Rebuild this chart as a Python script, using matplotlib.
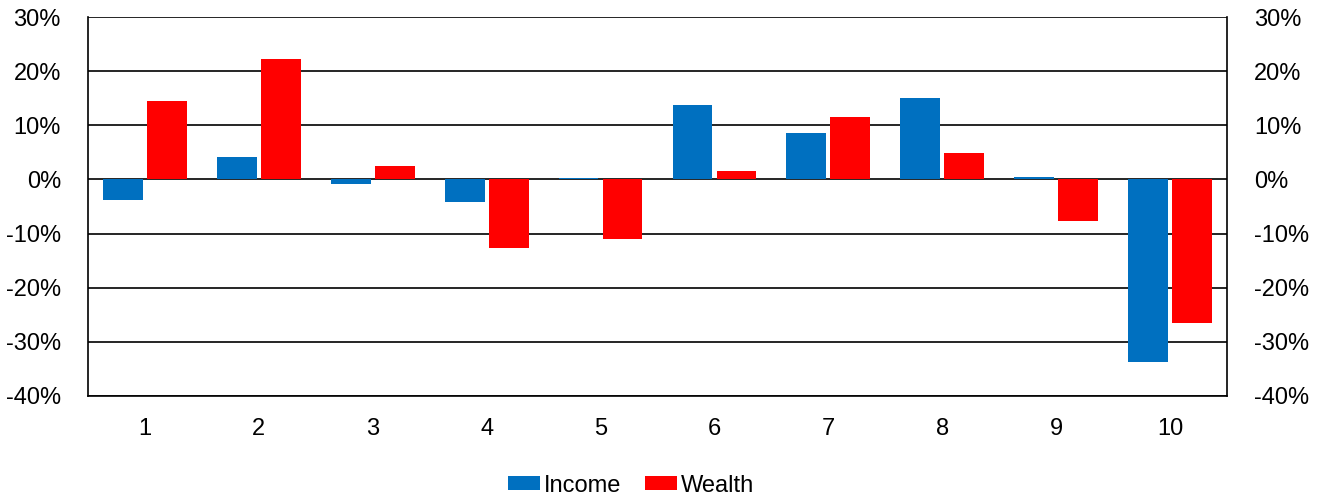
import matplotlib
matplotlib.use("Agg")
import matplotlib.pyplot as plt
import numpy as np
from matplotlib.ticker import FuncFormatter

plt.rcParams["font.family"] = ["Liberation Sans", "DejaVu Sans"]

# deciles and percentage changes
deciles = ["1", "2", "3", "4", "5", "6", "7", "8", "9", "10"]
income = [-3.8, 4.1, -0.85, -4.1, 0.2, 13.8, 8.5, 15.0, 0.4, -33.8]
wealth = [14.5, 22.3, 2.5, -12.6, -11.0, 1.55, 11.6, 4.8, -7.6, -26.6]

fig = plt.figure(figsize=(13.17, 4.98), dpi=100)
ax = fig.add_axes([88 / 1317, 102 / 498, 1139 / 1317, 379 / 498])

x = np.arange(len(deciles))
w = 0.35
off = 0.193
ax.bar(x - off, income, width=w, color="#0070C0", label="Income", zorder=3)
ax.bar(x + off, wealth, width=w, color="#FF0000", label="Wealth", zorder=3)

ax.set_xlim(-0.5, len(deciles) - 0.5)
ax.set_ylim(-40, 30)
ax.set_yticks(range(-40, 31, 10))
ax.yaxis.set_major_formatter(FuncFormatter(lambda v, p: f"{v:.0f}%"))
ax.set_xticks(x)
ax.set_xticklabels(deciles)

ax.grid(True, axis="y", color="black", linewidth=1.2, zorder=1)
for s in ["left", "right", "bottom"]:
    ax.spines[s].set_color("black")
    ax.spines[s].set_linewidth(1.2)
ax.spines["top"].set_visible(False)

fs = 17
ax.tick_params(axis="y", left=False, right=False, labelleft=True, labelright=True,
               labelsize=fs, pad=16)
ax.tick_params(axis="x", bottom=False, labelsize=fs, pad=12)

fig.legend(
    loc="center",
    bbox_to_anchor=(0.479, 0.025),
    ncol=2,
    frameon=False,
    fontsize=fs,
    handlelength=1.35,
    handleheight=0.55,
    handletextpad=0.17,
    columnspacing=1.0,
    borderpad=0,
)

fig.savefig("out.png", dpi=100)
plt.close(fig)
